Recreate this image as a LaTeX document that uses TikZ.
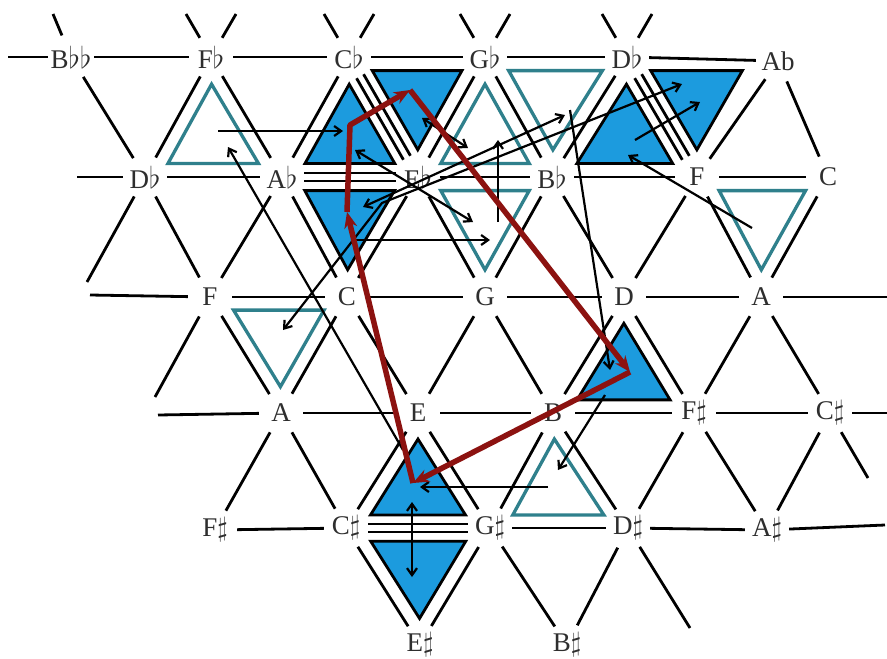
\documentclass[tikz,border=0pt]{standalone}
\usepackage{fontspec}
\setmainfont{Liberation Serif}
\usetikzlibrary{arrows.meta,calc}
\definecolor{tealc}{RGB}{47,128,140}
\definecolor{bluef}{RGB}{28,155,222}
\definecolor{redc}{RGB}{140,18,16}
\newcommand\myfl{\scalebox{1.2}{$\flat$}}
\newcommand\mysh{\scalebox{1.1}{$\sharp$}}
\newcommand\insettri[4]{%
  \path coordinate (tc) at (barycentric cs:#2=1,#3=1,#4=1);
  \draw[#1] ($(tc)!0.66!(#2)$) -- ($(tc)!0.66!(#3)$) -- ($(tc)!0.66!(#4)$) -- cycle;}
\begin{document}
\begin{tikzpicture}[x=1pt,y=-1pt,
  lab/.style={circle,minimum size=44pt,inner sep=0pt,font=\fontsize{27}{29}\selectfont,text=black!82},
  gline/.style={line width=2.8pt,black},
  tealtri/.style={draw=tealc,line width=3.3pt,fill=white},
  bluetri/.style={draw=black,line width=2.8pt,fill=bluef},
  arr/.style={line width=2.2pt,-{Straight Barb[length=7pt,width=10pt]}},
  darr/.style={line width=2.2pt,{Straight Barb[length=7pt,width=10pt]}-{Straight Barb[length=7pt,width=10pt]}},
  redarr/.style={line width=5.5pt,redc,-{Stealth[length=16pt,width=13pt]},line join=round}]
\path[use as bounding box] (0,0) rectangle (887,659);
\fill[white] (0,0) rectangle (887,659);
% labels
\node[lab] (Bbb) at (71,57) {B\myfl\myfl};
\node[lab] (Fb) at (211,57) {F\myfl};
\node[lab] (Cb) at (349,57) {C\myfl};
\node[lab] (Gb) at (485,57) {G\myfl};
\node[lab] (Db1) at (627,57) {D\myfl};
\node[lab] (Ab1) at (778,61) {Ab};
\coordinate (AbV) at (766,57);
\node[lab] (Db2) at (145,177) {D\myfl};
\node[lab] (Ab2) at (282,177) {A\myfl};
\node[lab] (Eb) at (418,177) {E\myfl};
\node[lab] (Bb) at (552,177) {B\myfl};
\node[lab] (F2) at (697,177) {F};
\node[lab] (C2) at (828,177) {C};
\node[lab] (F3) at (210,297) {F};
\node[lab] (C3) at (347,297) {C};
\node[lab] (G3) at (485,297) {G};
\node[lab] (D3) at (624,297) {D};
\node[lab] (A3) at (761,297) {A};
\node[lab] (A4) at (281,413) {A};
\node[lab] (E4) at (418,413) {E};
\node[lab] (B4) at (553,413) {B};
\node[lab] (Fs4) at (694,413) {F\mysh};
\node[lab] (Cs4) at (830,413) {C\mysh};
\node[lab] (Fs5) at (215,530) {F\mysh};
\node[lab] (Cs5) at (346,528) {C\mysh};
\node[lab] (Gs5) at (490,528) {G\mysh};
\node[lab] (Ds5) at (628,528) {D\mysh};
\node[lab] (As5) at (767,530) {A\mysh};
\node[lab] (Es6) at (420,645) {E\mysh};
\node[lab] (Bs6) at (567,645) {B\mysh};
% free ends
\coordinate (e1) at (8,57);
\coordinate (e2) at (77,177);
\coordinate (e3) at (87,282);
\coordinate (e4) at (90,295);
\coordinate (e5) at (155,397);
\coordinate (e6) at (158,415);
\coordinate (e7) at (887,297);
\coordinate (e8) at (887,413);
\coordinate (e9) at (868,478);
\coordinate (e10) at (885,525);
\coordinate (e11) at (690,628);
\coordinate (e12) at (53,14);
% grid
\begin{scope}[gline]
\draw (e1) -- (Bbb); \draw (Bbb) -- (Fb); \draw (Fb) -- (Cb); \draw (Cb) -- (Gb);
\draw (Gb) -- (Db1); \draw (Db1) -- (Ab1);
\draw (Bbb) -- (e12);
\foreach \n in {Fb,Cb,Gb,Db1} {\draw (\n) -- ++(-25,-43); \draw (\n) -- ++(25,-43);}
\draw (Bbb) -- (Db2); \draw (Fb) -- (Db2); \draw (Fb) -- (Ab2); \draw (Cb) -- (Ab2);
\draw (Gb) -- (Eb); \draw (Gb) -- (Bb); \draw (Db1) -- (Bb);
\draw (Ab1) -- (F2); \draw (Ab1) -- (C2);
\draw (e2) -- (Db2); \draw (Db2) -- (Ab2); \draw (Eb) -- (Bb); \draw (Bb) -- (F2); \draw (F2) -- (C2);
\draw (Db2) -- (e3); \draw (Db2) -- (F3); \draw (Ab2) -- (F3); \draw (Ab2) -- (C3); \draw (Eb) -- (C3);
\draw (Eb) -- (G3); \draw (Bb) -- (G3); \draw (Bb) -- (D3); \draw (F2) -- (D3); \draw (F2) -- (A3); \draw (C2) -- (A3);
\draw (e4) -- (F3); \draw (F3) -- (C3); \draw (C3) -- (G3); \draw (G3) -- (D3); \draw (D3) -- (A3); \draw (A3) -- (e7);
\draw (F3) -- (e5); \draw (F3) -- (A4); \draw (C3) -- (A4); \draw (C3) -- (E4); \draw (G3) -- (E4); \draw (G3) -- (B4);
\draw (D3) -- (B4); \draw (D3) -- (Fs4); \draw (A3) -- (Fs4); \draw (A3) -- (Cs4);
\draw (e6) -- (A4); \draw (A4) -- (E4); \draw (E4) -- (B4); \draw (B4) -- (Fs4); \draw (Fs4) -- (Cs4); \draw (Cs4) -- (e8);
\draw (A4) -- (Fs5); \draw (A4) -- (Cs5); \draw (E4) -- (Cs5); \draw (E4) -- (Gs5); \draw (B4) -- (Gs5); \draw (B4) -- (Ds5);
\draw (Fs4) -- (Ds5); \draw (Fs4) -- (As5); \draw (Cs4) -- (As5); \draw (Cs4) -- (e9);
\draw (Fs5) -- (Cs5); \draw (Gs5) -- (Ds5); \draw (Ds5) -- (As5); \draw (As5) -- (e10);
\draw (Cs5) -- (Es6); \draw (Gs5) -- (Es6); \draw (Gs5) -- (Bs6); \draw (Ds5) -- (Bs6); \draw (Ds5) -- (e11);
% doubled edges between neighbouring filled triangles
\draw[transform canvas={yshift=4pt}] (Ab2) -- (Eb); \draw[transform canvas={yshift=-4pt}] (Ab2) -- (Eb);
\draw[transform canvas={yshift=4pt}] (Cs5) -- (Gs5); \draw[transform canvas={yshift=-4pt}] (Cs5) -- (Gs5);
\draw[transform canvas={shift={(3.5pt,2pt)}}] (Cb) -- (Eb); \draw[transform canvas={shift={(-3.5pt,-2pt)}}] (Cb) -- (Eb);
\draw[transform canvas={shift={(3.5pt,2pt)}}] (Db1) -- (F2); \draw[transform canvas={shift={(-3.5pt,-2pt)}}] (Db1) -- (F2);
\end{scope}
% triangles
\insettri{tealtri}{Fb}{Db2}{Ab2}
\insettri{tealtri}{Gb}{Eb}{Bb}
\insettri{tealtri}{Gb}{Db1}{Bb}
\insettri{tealtri}{Eb}{Bb}{G3}
\insettri{tealtri}{F2}{C2}{A3}
\insettri{tealtri}{F3}{C3}{A4}
\insettri{tealtri}{B4}{Gs5}{Ds5}
\insettri{bluetri}{Cb}{Gb}{Eb}
\insettri{bluetri}{Cb}{Ab2}{Eb}
\insettri{bluetri}{Ab2}{Eb}{C3}
\insettri{bluetri}{Db1}{Bb}{F2}
\insettri{bluetri}{Db1}{AbV}{F2}
\insettri{bluetri}{D3}{B4}{Fs4}
\insettri{bluetri}{E4}{Cs5}{Gs5}
\insettri{bluetri}{Cs5}{Gs5}{Es6}
% black arrows
\coordinate (a1) at (218,131); \coordinate (a2) at (343,131);
\coordinate (b1) at (403,450); \coordinate (b2) at (228,147);
\coordinate (c1) at (355,150); \coordinate (c2) at (473,222);
\coordinate (d1) at (422,118); \coordinate (d2) at (468,148);
\coordinate (f1) at (498,222); \coordinate (f2) at (498,140);
\coordinate (g1) at (363,207); \coordinate (g2) at (565,115);
\coordinate (h1) at (283,330); \coordinate (hm) at (382,203); \coordinate (h2) at (682,84);
\coordinate (i1) at (635,140); \coordinate (i2) at (700,102);
\coordinate (j1) at (752,228); \coordinate (j2) at (628,155);
\coordinate (k1) at (352,240); \coordinate (k2) at (490,240);
\coordinate (l1) at (412,502); \coordinate (l2) at (412,577);
\coordinate (m1) at (548,487); \coordinate (m2) at (420,487);
\coordinate (n1) at (570,110); \coordinate (n2) at (610,370);
\coordinate (o1) at (605,395); \coordinate (o2) at (558,470);
\draw[arr] (a1) -- (a2);
\draw[arr] (b1) -- (b2);
\draw[darr] (c1) -- (c2);
\draw[darr] (d1) -- (d2);
\draw[arr] (f1) -- (f2);
\draw[darr] (g1) -- (g2);
\draw[darr] (h1) -- (hm) -- (h2);
\draw[arr] (i1) -- (i2);
\draw[arr] (j1) -- (j2);
\draw[arr] (k1) -- (k2);
\draw[darr] (l1) -- (l2);
\draw[arr] (m1) -- (m2);
\draw[arr] (n1) -- (n2);
\draw[arr] (o1) -- (o2);
% red path
\coordinate (P1) at (413,483);
\coordinate (P2) at (347,212);
\coordinate (P3) at (350,125);
\coordinate (P4) at (410,90);
\coordinate (P5) at (630,372);
\draw[redarr] (P1) -- (P2);
\draw[redarr] (P2) -- (P3) -- (P4);
\draw[redarr] (P4) -- (P5);
\draw[redarr] (P5) -- (P1);
\end{tikzpicture}
\end{document}
